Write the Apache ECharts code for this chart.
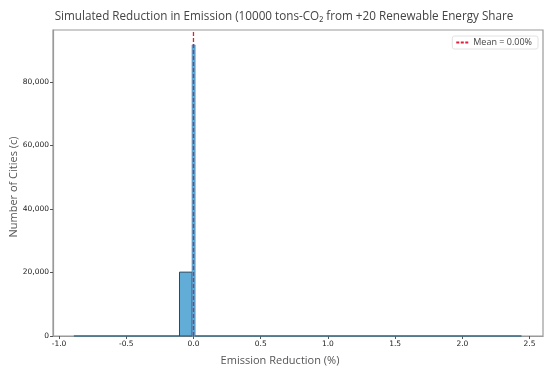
<!DOCTYPE html>
<html>
<head>
<meta charset="utf-8">
<script src="https://cdn.jsdelivr.net/npm/echarts@6/dist/echarts.min.js"></script>
<style>html,body{margin:0;padding:0;background:#fff}#c{width:550px;height:371px}</style>
</head>
<body>
<div id="c"></div>
<script>
// Histogram bins (edges in %, counts)
const binStarts = [-0.89, -0.104, -0.010, 0.012];
const binEnds   = [-0.104, -0.010, 0.012, 2.44];
const binCounts = [0, 20100, 91600, 0];
// Mean value
const meanValue = 0.0;
// Tick labels
const xTicks = [-1.0, -0.5, 0.0, 0.5, 1.0, 1.5, 2.0, 2.5];
const yTicks = [0, 20000, 40000, 60000, 80000];
const xRange = [-1.045, 2.6];
const yRange = [0, 96300];

const chart = echarts.init(document.getElementById('c'), null, {renderer: 'canvas'});
const histData = binStarts.map((s, i) => [s, binEnds[i], binCounts[i]]);
const fmtY = v => v.toLocaleString('en-US');

chart.setOption({
  animation: false,
  title: {
    text: 'Simulated Reduction in Emission (10000 tons-CO\u2082 from +20 Renewable Energy Share',
    left: 279, top: 6, textAlign: 'center',
    textStyle: {fontFamily: 'Open Sans', fontWeight: 'normal', fontSize: 11.7, color: '#444'}
  },
  grid: {left: 53, right: 7, top: 30, bottom: 35, containLabel: false, outerBoundsMode: 'none',
    show: true, borderColor: '#9a9a9a', borderWidth: 1.2, backgroundColor: 'transparent'},
  legend: {
    right: 12, top: 36, itemWidth: 12, itemHeight: 2, itemGap: 4,
    padding: [2, 6, 2, 4],
    borderColor: '#e2e2e2', borderWidth: 1, borderRadius: 2,
    textStyle: {fontFamily: 'Open Sans', fontSize: 9, color: '#444'},
    data: [{name: 'Mean = 0.00%', icon: 'path://M0,0h3v2h-3zM4.5,0h3v2h-3zM9,0h3v2h-3z', itemStyle: {color: '#e0203a'}}]
  },
  xAxis: {
    type: 'value', min: xRange[0], max: xRange[1],
    name: 'Emission Reduction (%)', nameLocation: 'middle', nameGap: 19, nameMoveOverlap: false,
    nameTextStyle: {fontFamily: 'Open Sans', fontSize: 11, color: '#555', padding: [0, 36, 0, 0]},
    axisLine: {show: true, onZero: false, lineStyle: {color: '#9a9a9a', width: 1.2}},
    axisTick: {show: true, length: 3, lineStyle: {color: '#555'}, customValues: xTicks},
    axisLabel: {fontFamily: 'DejaVu Sans', fontSize: 7.5, color: '#222', margin: 4, customValues: xTicks,
      formatter: v => Number(v).toFixed(1)},
    splitLine: {show: false}
  },
  yAxis: {
    type: 'value', min: yRange[0], max: yRange[1],
    name: 'Number of Cities (c)', nameLocation: 'middle', nameGap: 34, nameMoveOverlap: false,
    nameTextStyle: {fontFamily: 'Open Sans', fontSize: 11, color: '#555', padding: [0, 0, 0, -8]},
    axisLine: {show: true, onZero: false, lineStyle: {color: '#9a9a9a', width: 1.2}},
    axisTick: {show: true, length: 3, lineStyle: {color: '#555'}, customValues: yTicks},
    axisLabel: {fontFamily: 'DejaVu Sans', fontSize: 7.5, color: '#222', margin: 4, customValues: yTicks, formatter: fmtY},
    splitLine: {show: false}
  },
  series: [
    {
      name: 'hist', type: 'custom',
      data: histData,
      encode: {x: [0, 1], y: 2},
      renderItem: (params, api) => {
        const p0 = api.coord([api.value(0), 0]);
        const p1 = api.coord([api.value(1), api.value(2)]);
        const v = api.value(2);
        const thin = (p1[0] - p0[0]) < 5;
        return {
          type: 'rect',
          shape: {x: p0[0], y: p1[1], width: p1[0] - p0[0], height: p0[1] - p1[1]},
          style: {fill: '#62acd8', stroke: v === 0 ? '#3b6f88' : (thin ? '#3a8fc4' : '#2a4a5c'),
            lineWidth: v === 0 ? 1.6 : (thin ? 0.8 : 1)}
        };
      },
      z: 2
    },
    {
      name: 'Mean = 0.00%', type: 'line',
      data: [[meanValue, yRange[0]], [meanValue, yRange[1]]],
      symbol: 'none',
      lineStyle: {color: '#e0203a', width: 1.3, type: [4, 2]},
      itemStyle: {color: '#e0203a'},
      z: 5
    }
  ]
});
</script>
</body>
</html>
